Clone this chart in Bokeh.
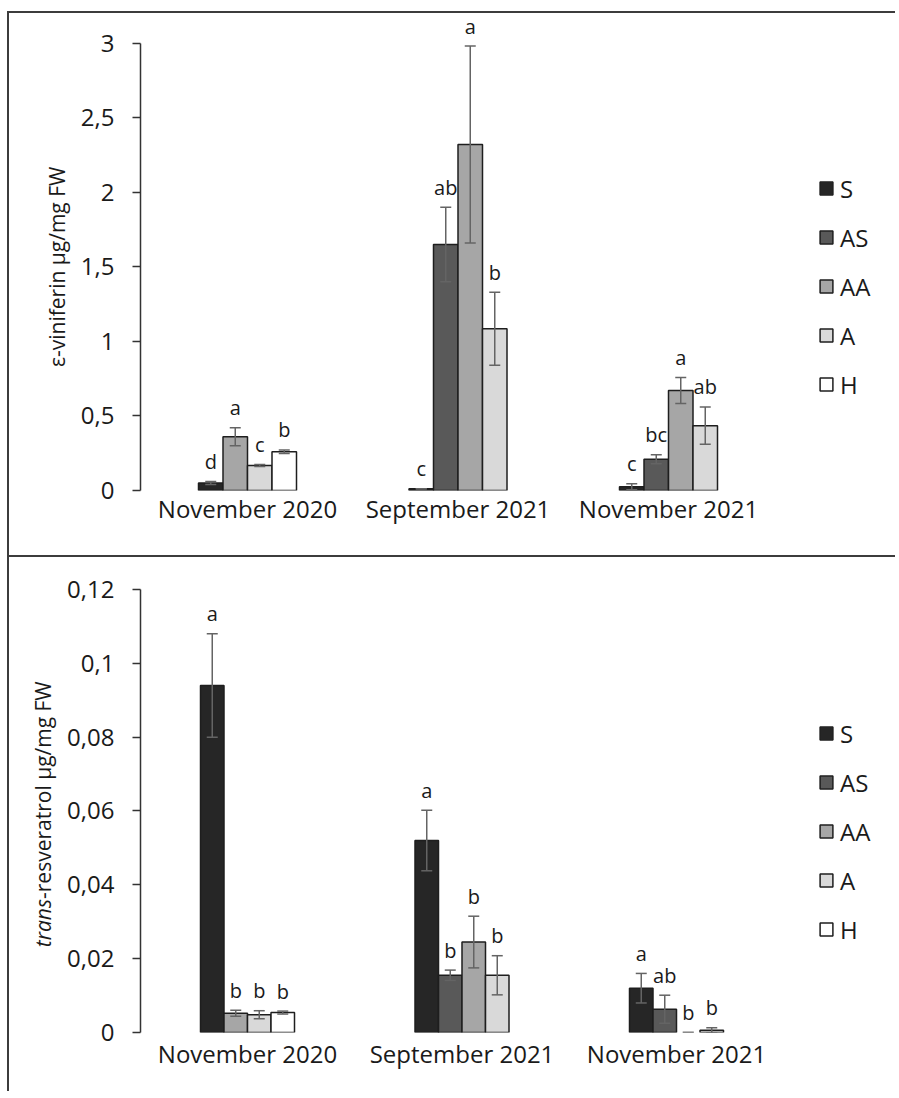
import math
from bokeh.plotting import figure
from bokeh.models import (ColumnDataSource, Whisker, TeeHead, Legend, LegendItem,
                          FixedTicker, CustomJSTickFormatter, Range1d)
from bokeh.layouts import column, row
from bokeh.core.properties import value
from bokeh.embed import file_html
from bokeh.resources import INLINE

# ---------------- data ----------------
series = ["S", "AS", "AA", "A", "H"]
periods = ["November 2020", "September 2021", "November 2021"]

# epsilon-viniferin (top panel)
vin_S = [0.05, 0.012, 0.025]
vin_S_err = [0.01, 0.0, 0.02]
vin_AS = [None, 1.65, 0.21]
vin_AS_err = [None, 0.25, 0.03]
vin_AA = [0.36, 2.32, 0.67]
vin_AA_err = [0.06, 0.66, 0.087]
vin_A = [0.168, 1.085, 0.435]
vin_A_err = [0.007, 0.245, 0.125]
vin_H = [0.26, None, None]
vin_H_err = [0.012, None, None]
vin_S_let = ["d", "c", "c"]
vin_AS_let = [None, "ab", "bc"]
vin_AA_let = ["a", "a", "a"]
vin_A_let = ["c", "b", "ab"]
vin_H_let = ["b", None, None]
vin_ticks = [0, 0.5, 1, 1.5, 2, 2.5, 3]

# trans-resveratrol (bottom panel)
res_S = [0.094, 0.052, 0.012]
res_S_err = [0.014, 0.0082, 0.004]
res_AS = [None, 0.0155, 0.0063]
res_AS_err = [None, 0.0014, 0.0038]
res_AA = [0.0052, 0.0245, 0.0]
res_AA_err = [0.0008, 0.007, 0.0]
res_A = [0.0048, 0.0155, 0.0006]
res_A_err = [0.0011, 0.0053, 0.0007]
res_H = [0.0054, None, None]
res_H_err = [0.0004, None, None]
res_S_let = ["a", "a", "a"]
res_AS_let = [None, "b", "ab"]
res_AA_let = ["b", "b", "b"]
res_A_let = ["b", "b", "b"]
res_H_let = ["b", None, None]
res_ticks = [0, 0.02, 0.04, 0.06, 0.08, 0.1, 0.12]

# ---------------- style ----------------
FONT = "Open Sans"
fills = {"S": "#262626", "AS": "#595959", "AA": "#a6a6a6", "A": "#d9d9d9", "H": "#ffffff"}
OUTLINE = "#1e1e1e"
ERRC = "#646464"
TXT = "#1a1a1a"
BORDER = "2px solid #3c3c3c"
RIGHT_EDGE = 897      # page x where the panels end
FRAME_LEFT = 142      # page x of the y axis
PAGE_LEFT = 9         # page x where content starts (after left border)


def make_panel(vals, errs, lets, ticks, y_end, px_per_group, bar_px, height,
               min_top, min_bottom, legend_loc, title_w, top_margin, xlab_standoff):
    main_left = PAGE_LEFT + title_w
    width = RIGHT_EDGE - main_left
    mb_left = FRAME_LEFT - main_left
    frame_w = width - mb_left
    first_center_px = 107.0
    x_start = -first_center_px / px_per_group
    x_end = x_start + frame_w / px_per_group
    bw = bar_px / px_per_group
    yr = Range1d(0, y_end)

    p = figure(width=width, height=height, output_backend="svg", toolbar_location=None,
               x_range=Range1d(x_start, x_end), y_range=yr,
               min_border_left=mb_left, min_border_right=0,
               min_border_top=min_top, min_border_bottom=min_bottom,
               outline_line_color=None, background_fill_color="white",
               border_fill_color="white",
               styles={"border-top": BORDER},
               margin=(top_margin, 0, 0, 0))
    p.xgrid.visible = False
    p.ygrid.visible = False

    # title strip (shares the y range so its frame lines up with the main plot)
    t = figure(width=title_w, height=height, output_backend="svg", toolbar_location=None,
               x_range=Range1d(0, title_w), y_range=yr,
               min_border_left=0, min_border_right=0,
               min_border_top=min_top, min_border_bottom=min_bottom,
               x_axis_location=None, y_axis_location=None,
               outline_line_color=None, background_fill_color="white",
               border_fill_color="white",
               styles={"border-top": BORDER, "border-left": BORDER},
               margin=(top_margin, 0, 0, 7))
    t.xgrid.visible = False
    t.ygrid.visible = False

    # slot positions per group
    positions = {}
    for g in range(len(periods)):
        present = [s for s in series if vals[s][g] is not None]
        n = len(present)
        for i, s in enumerate(present):
            positions[(s, g)] = g + (i - (n - 1) / 2) * bw

    renderers = {}
    all_x, all_up, all_lo, all_top, all_let = [], [], [], [], []
    for s in series:
        xs, tops, la = [], [], []
        for g in range(len(periods)):
            v = vals[s][g]
            if v is None:
                continue
            e = errs[s][g]
            xs.append(positions[(s, g)])
            tops.append(v)
            la.append(1.0 if v > 0 else 0.0)
            all_x.append(positions[(s, g)])
            all_up.append(v + e)
            all_lo.append(v - e)
            if lets[s][g]:
                all_top.append(v + e)
                all_let.append(lets[s][g])
            else:
                all_top.append(float("nan"))
                all_let.append("")
        src = ColumnDataSource(dict(x=xs, top=tops, la=la))
        r = p.vbar(x="x", top="top", bottom=0, width=bw, source=src,
                   fill_color=fills[s], line_color=OUTLINE, line_width=1.5,
                   line_alpha="la")
        renderers[s] = r

    esrc = ColumnDataSource(dict(x=all_x, upper=all_up, lower=all_lo))
    wh = Whisker(source=esrc, base="x", upper="upper", lower="lower",
                 line_color=ERRC, line_width=1.5, level="annotation",
                 upper_head=TeeHead(size=11, line_color=ERRC, line_width=1.5),
                 lower_head=TeeHead(size=11, line_color=ERRC, line_width=1.5))
    p.add_layout(wh)

    lsrc = ColumnDataSource(dict(x=all_x, y=all_top, t=all_let))
    p.text(x="x", y="y", text="t", source=lsrc, text_align="center",
           text_baseline="middle", y_offset=-20, text_font=value(FONT),
           text_font_size="20px", text_color=TXT)

    # axes
    yax = p.yaxis[0]
    yax.bounds = (ticks[0], ticks[-1])
    yax.ticker = FixedTicker(ticks=ticks)
    yax.formatter = CustomJSTickFormatter(
        code="return (Math.round(tick*1000)/1000).toString().replace('.', ',');")
    yax.major_tick_out = 8
    yax.major_tick_in = 0
    yax.minor_tick_line_color = None
    yax.axis_line_color = "#333333"
    yax.axis_line_width = 1.5
    yax.major_tick_line_color = "#333333"
    yax.major_tick_line_width = 1.5
    yax.major_label_text_font = FONT
    yax.major_label_text_font_size = "24px"
    yax.major_label_text_color = TXT
    yax.major_label_standoff = 18

    xax = p.xaxis[0]
    xax.ticker = FixedTicker(ticks=list(range(len(periods))))
    xax.major_label_overrides = {i: lab for i, lab in enumerate(periods)}
    xax.axis_line_color = None
    xax.major_tick_line_color = None
    xax.minor_tick_line_color = None
    xax.major_tick_out = 0
    xax.major_tick_in = 0
    xax.major_label_text_font = FONT
    xax.major_label_text_font_size = "24px"
    xax.major_label_text_color = TXT
    xax.major_label_standoff = xlab_standoff

    legend = Legend(items=[LegendItem(label=s, renderers=[renderers[s]]) for s in series],
                    location=legend_loc, orientation="vertical",
                    padding=0, margin=0, spacing=15, label_height=34,
                    glyph_height=16, glyph_width=16, label_standoff=6,
                    border_line_color=None, background_fill_alpha=0,
                    label_text_font=FONT, label_text_font_size="24px",
                    label_text_color=TXT)
    p.add_layout(legend)
    return t, p


# ---------- top panel ----------
t_top, top = make_panel(
    vals={"S": vin_S, "AS": vin_AS, "AA": vin_AA, "A": vin_A, "H": vin_H},
    errs={"S": vin_S_err, "AS": vin_AS_err, "AA": vin_AA_err, "A": vin_A_err, "H": vin_H_err},
    lets={"S": vin_S_let, "AS": vin_AS_let, "AA": vin_AA_let, "A": vin_A_let, "H": vin_H_let},
    ticks=vin_ticks, y_end=3.165, px_per_group=210.5, bar_px=24.5, height=544,
    min_top=5, min_bottom=67, legend_loc=(678, 89), title_w=67, top_margin=11,
    xlab_standoff=1)
vin_mid = (vin_ticks[0] + vin_ticks[-1]) / 2
t_top.text(x=[47.7], y=[vin_mid], text=["ε-viniferin µg/mg FW"], angle=math.pi / 2,
           text_align="center", text_baseline="middle", text_font=value(FONT),
           text_font_size="21px", text_color=TXT)

# ---------- bottom panel ----------
t_bot, bot = make_panel(
    vals={"S": res_S, "AS": res_AS, "AA": res_AA, "A": res_A, "H": res_H},
    errs={"S": res_S_err, "AS": res_AS_err, "AA": res_AA_err, "A": res_A_err, "H": res_H_err},
    lets={"S": res_S_let, "AS": res_AS_let, "AA": res_AA_let, "A": res_A_let, "H": res_H_let},
    ticks=res_ticks, y_end=0.12378, px_per_group=214.5, bar_px=23.5, height=536,
    min_top=18, min_bottom=61, legend_loc=(678, 86), title_w=53, top_margin=0,
    xlab_standoff=4)
res_mid = (res_ticks[0] + res_ticks[-1]) / 2
JUNCTION_OFFSET = 88   # px below the axis middle where the italic part ends
t_bot.text(x=[33.5], y=[res_mid], text=["trans"], angle=math.pi / 2, y_offset=JUNCTION_OFFSET,
           text_align="right", text_baseline="middle", text_font=value(FONT),
           text_font_style="italic", text_font_size="21px", text_color=TXT)
t_bot.text(x=[33.5], y=[res_mid], text=["-resveratrol µg/mg FW"], angle=math.pi / 2,
           y_offset=JUNCTION_OFFSET, text_align="left", text_baseline="middle",
           text_font=value(FONT), text_font_size="21px", text_color=TXT)

layout = column(row(t_top, top, spacing=0), row(t_bot, bot, spacing=0), spacing=0)
open("out.html", "w").write(file_html(layout, INLINE))
